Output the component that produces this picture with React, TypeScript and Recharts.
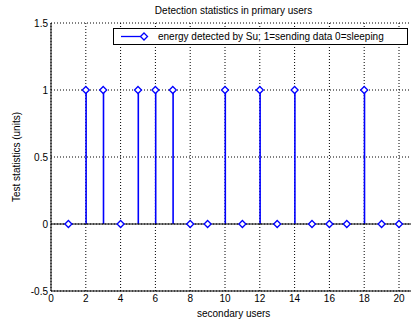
import React from "react";
import {
  ComposedChart,
  Bar,
  Scatter,
  XAxis,
  YAxis,
  CartesianGrid,
  ReferenceLine,
  Legend,
} from "recharts";

const users = [1, 2, 3, 4, 5, 6, 7, 8, 9, 10, 11, 12, 13, 14, 15, 16, 17, 18, 19, 20];
const detected = [0, 1, 1, 0, 1, 1, 1, 0, 0, 1, 0, 1, 0, 1, 0, 0, 0, 1, 0, 0];
const xTicks = [0, 2, 4, 6, 8, 10, 12, 14, 16, 18, 20];
const yTicks = [-0.5, 0, 0.5, 1, 1.5];

const BLUE = "#0000ff";
const FONT = "'Liberation Sans', Arial, sans-serif";

const data = users.map((u, i) => ({ user: u, value: detected[i] }));

const Stem = (props: any) => {
  const { x, y, width, height } = props;
  const cx = x + width / 2;
  return <line x1={cx} x2={cx} y1={y} y2={y + height} stroke={BLUE} strokeWidth={1.6} />;
};

const Diamond = (props: any) => {
  const { cx, cy } = props;
  const r = 3.5;
  return (
    <path
      d={`M${cx},${cy - r} L${cx + r},${cy} L${cx},${cy + r} L${cx - r},${cy} Z`}
      fill="#fff"
      stroke={BLUE}
      strokeWidth={1.3}
    />
  );
};

const LegendBox = () => (
  <div
    style={{
      width: 293,
      height: 15,
      border: "1px solid #000",
      background: "#fff",
      display: "flex",
      alignItems: "center",
      fontSize: 10,
      fontFamily: FONT,
      color: "#000",
    }}
  >
    <svg width={44} height={15} style={{ flex: "none" }}>
      <line x1={7} x2={30} y1={7.5} y2={7.5} stroke={BLUE} strokeWidth={1.3} />
      <path d="M30,4 L33.5,7.5 L30,11 L26.5,7.5 Z" fill="#fff" stroke={BLUE} strokeWidth={1.3} />
    </svg>
    <span style={{ whiteSpace: "nowrap" }}>energy detected by Su; 1=sending data 0=sleeping</span>
  </div>
);

export default function App() {
  return (
    <div
      style={{
        position: "absolute",
        left: 0,
        top: 0,
        width: 411,
        height: 322,
        overflow: "hidden",
        background: "#fff",
        fontFamily: FONT,
      }}
    >
      <div
        style={{
          position: "absolute",
          left: 51,
          top: 5,
          width: 365,
          textAlign: "center",
          fontSize: 10,
          color: "#000",
        }}
      >
        Detection statistics in primary users
      </div>
      <ComposedChart
        width={430}
        height={322}
        data={data}
        margin={{ top: 23, right: 13.6, bottom: 0, left: 0 }}
      >
        <CartesianGrid stroke="#000" strokeDasharray="1 2" horizontalValues={yTicks} verticalValues={xTicks} />
        <XAxis
          xAxisId="top"
          orientation="top"
          dataKey="user"
          type="number"
          domain={[0, 21]}
          ticks={xTicks}
          height={0}
          mirror
          tick={false}
          tickSize={3}
          axisLine={{ stroke: "#000" }}
          tickLine={{ stroke: "#000" }}
        />
        <XAxis
          dataKey="user"
          type="number"
          domain={[0, 21]}
          ticks={xTicks}
          interval={0}
          height={31}
          tickSize={0}
          tickMargin={4}
          axisLine={{ stroke: "#000" }}
          tickLine={false}
          tick={{ fill: "#000", fontSize: 10 }}
          label={{ value: "secondary users", position: "insideBottom", offset: 5, fill: "#000", fontSize: 10 }}
        />
        <YAxis
          type="number"
          domain={[-0.5, 1.5]}
          ticks={yTicks}
          interval={0}
          width={51}
          tickSize={0}
          tickMargin={3}
          axisLine={{ stroke: "#000" }}
          tickLine={false}
          tick={{ fill: "#000", fontSize: 10 }}
          label={{
            value: "Test statistics (units)",
            angle: -90,
            position: "insideLeft",
            offset: 16,
            fill: "#000",
            fontSize: 10,
            style: { textAnchor: "middle" },
          }}
        />
        <ReferenceLine y={0} stroke="#000" strokeWidth={1} />
        <Bar dataKey="value" barSize={2} shape={<Stem />} isAnimationActive={false} />
        <Scatter dataKey="value" shape={<Diamond />} isAnimationActive={false} />
        <Legend
          verticalAlign="middle"
          align="center"
          content={<LegendBox />}
          wrapperStyle={{ left: 113, top: 28, width: 295, height: 17 }}
        />
      </ComposedChart>
    </div>
  );
}
